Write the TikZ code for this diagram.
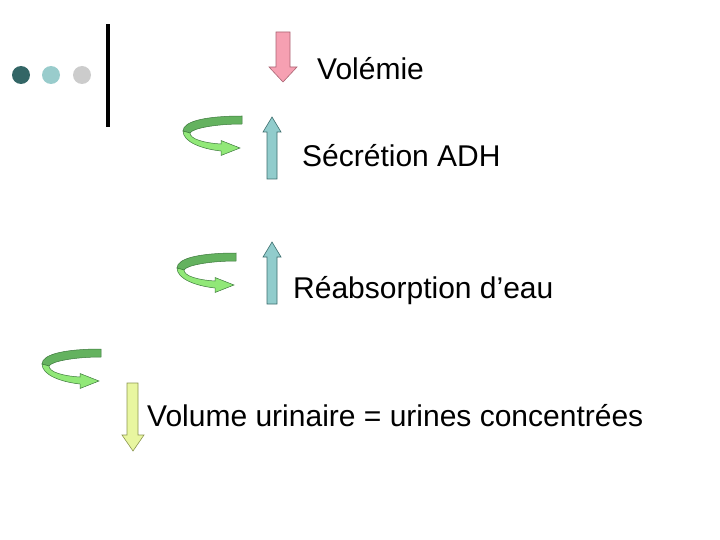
\documentclass[tikz,border=0pt]{standalone}
\usepackage{fontspec}
\setmainfont{Liberation Sans}
\definecolor{dotA}{RGB}{51,102,102}
\definecolor{dotB}{RGB}{153,204,204}
\definecolor{dotC}{RGB}{204,204,204}
\definecolor{pinkF}{RGB}{246,160,178}
\definecolor{pinkD}{RGB}{170,100,115}
\definecolor{tealF}{RGB}{145,204,204}
\definecolor{tealD}{RGB}{60,110,110}
\definecolor{yelF}{RGB}{232,246,160}
\definecolor{yelD}{RGB}{140,150,80}
\definecolor{grDark}{RGB}{100,178,95}
\definecolor{grLight}{RGB}{145,232,120}
\definecolor{grLine}{RGB}{60,120,60}
\tikzset{
  lbl/.style={anchor=base west,inner sep=0pt,font=\fontsize{30}{36}\selectfont},
  curl/.pic={
    \filldraw[fill=grDark,draw=grLine,line width=0.5pt]
      (0,0) .. controls (-35,0) and (-59,5) .. (-59,15) -- (-52,17)
      .. controls (-49,12) and (-25,8) .. (0,8) -- cycle;
    \filldraw[fill=grLight,draw=grLine,line width=0.5pt]
      (-59,15) .. controls (-59,26) and (-40,33) .. (-21,35) -- (-21,39.5) -- (-2,32)
      -- (-21,24.5) -- (-21,28) .. controls (-38,27) and (-52,23) .. (-52,17) -- cycle;
  }
}
\begin{document}
\begin{tikzpicture}[x=1pt,y=-1pt]
\useasboundingbox (0,0) rectangle (720,540);
% bullets and bar
\fill[dotA] (21,75) circle (9);
\fill[dotB] (51,75) circle (9);
\fill[dotC] (82,75) circle (9);
\fill[black] (106,24) rectangle (110,127);
% pink down arrow
\filldraw[fill=pinkF,draw=pinkD,line width=0.6pt]
  (276,32) -- (290,32) -- (290,67) -- (297,67) -- (283,82) -- (269,67) -- (276,67) -- cycle;
% teal up arrows
\filldraw[fill=tealF,draw=tealD,line width=0.6pt]
  (267,179) -- (277,179) -- (277,132) -- (281,132) -- (272,117) -- (263,132) -- (267,132) -- cycle;
\filldraw[fill=tealF,draw=tealD,line width=0.6pt]
  (267,304) -- (277,304) -- (277,257) -- (281,257) -- (272,242) -- (263,257) -- (267,257) -- cycle;
% yellow down arrow
\filldraw[fill=yelF,draw=yelD,line width=0.6pt]
  (127,383) -- (138,383) -- (138,435) -- (144,435) -- (133,451) -- (122,435) -- (127,435) -- cycle;
% curled arrows
\pic at (242,116) {curl};
\pic at (236,253) {curl};
\pic at (101,349) {curl};
% texts
\node[lbl] (t1) at (317,80) {Volémie};
\node[lbl] (t2) at (302,167) {Sécrétion ADH};
\node[lbl] (t3) at (293,298) {Réabsorption d’eau};
\node[lbl] (t4) at (147,426) {Volume urinaire = urines concentrées};
\end{tikzpicture}
\end{document}
